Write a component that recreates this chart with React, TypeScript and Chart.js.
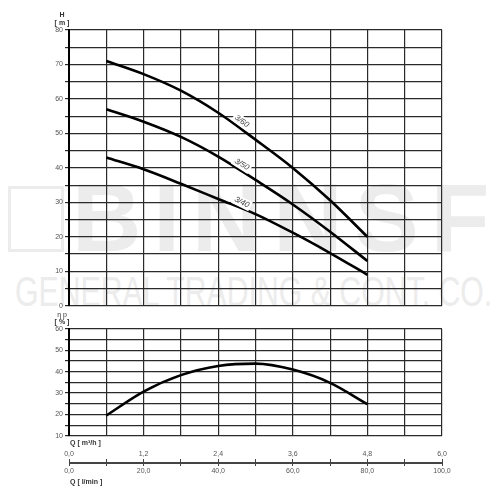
import React, { useEffect, useRef } from "react";
import { Chart, registerables } from "chart.js";

Chart.register(...registerables);

// ---- data ----
const flowQ = [0.6, 1.2, 1.8, 2.4, 3.0, 3.6, 4.2, 4.8]; // m³/h
const head360 = [71, 67.2, 62.4, 56, 48.2, 40, 30.6, 20];
const head350 = [57, 53.4, 49, 43.3, 36.5, 29.4, 21.5, 13];
const head340 = [43, 39.6, 35.4, 31, 26.6, 21.2, 15.3, 9];
const efficiency = [19.5, 30.7, 38.4, 42.7, 43.8, 41, 34.8, 24.8];
const curveNames = ["3/60", "3/50", "3/40"];
const curveLabelQ = 2.78;
const curveLabelH = [53.5, 41, 30];
const curveLabelAngle = [36, 32, 27];
const labelledM3h = [0, 1.2, 2.4, 3.6, 4.8, 6.0];
const labelledLmin = [0, 20, 40, 60, 80, 100];

const GRID = "#2a2a2a";
const GRID_W = 1.2;
const FONT = "Liberation Sans, Arial, sans-serif";
const tickFont = { family: FONT, size: 7 };
const TICK_COLOR = "#555";

const fmt = (v: number) => v.toFixed(1).replace(".", ",");
const pts = (ys: number[]) => flowQ.map((q, i) => ({ x: q, y: ys[i] }));

const lineStyle = {
  borderColor: "#000",
  borderWidth: 2.6,
  pointRadius: 0,
  tension: 0.4,
  cubicInterpolationMode: "monotone" as const,
  fill: false,
};

const curveLabelPlugin = {
  id: "curveLabels",
  afterDatasetsDraw(chart: any) {
    const { ctx } = chart;
    const x = chart.scales.x;
    const y = chart.scales.y;
    ctx.save();
    ctx.font = `italic 8px ${FONT}`;
    curveNames.forEach((name, i) => {
      const px = x.getPixelForValue(curveLabelQ);
      const py = y.getPixelForValue(curveLabelH[i]);
      ctx.save();
      ctx.translate(px, py);
      ctx.rotate((curveLabelAngle[i] * Math.PI) / 180);
      const w = ctx.measureText(name).width;
      ctx.fillStyle = "#fff";
      ctx.fillRect(-w / 2 - 2, -5, w + 4, 10);
      ctx.fillStyle = "#444";
      ctx.textAlign = "center";
      ctx.textBaseline = "middle";
      ctx.fillText(name, 0, 0);
      ctx.restore();
    });
    ctx.restore();
  },
};

function xGridScale() {
  return {
    type: "linear" as const,
    min: 0,
    max: 6,
    ticks: { stepSize: 0.6, display: false },
    grid: { color: GRID, lineWidth: GRID_W, drawTicks: false },
    border: { display: false },
    afterFit: (s: any) => {
      s.height = 0;
    },
  };
}

function yScale(min: number, max: number) {
  return {
    min,
    max,
    ticks: {
      stepSize: 5,
      font: tickFont,
      color: TICK_COLOR,
      padding: 2,
      callback: (v: any) => (Number(v) % 10 === 0 ? String(v) : ""),
      autoSkip: false,
    },
    grid: { color: GRID, lineWidth: GRID_W, tickLength: 4 },
    border: { color: "#000", width: 2 },
    afterFit: (s: any) => {
      s.width = 69;
    },
  };
}

const txt: React.CSSProperties = {
  position: "absolute",
  fontFamily: FONT,
  fontSize: 7,
  lineHeight: "8px",
  fontWeight: "bold",
  color: "#333",
  whiteSpace: "nowrap",
};

export default function App() {
  const headRef = useRef<HTMLCanvasElement>(null);
  const effRef = useRef<HTMLCanvasElement>(null);
  const axisRef = useRef<HTMLCanvasElement>(null);

  useEffect(() => {
    const headChart = new Chart(headRef.current!, {
      type: "line",
      data: {
        datasets: [
          { data: pts(head360), ...lineStyle },
          { data: pts(head350), ...lineStyle },
          { data: pts(head340), ...lineStyle },
        ],
      },
      options: {
        responsive: false,
        animation: false,
        layout: { padding: { left: 0, right: 58, top: 30, bottom: 5 } },
        plugins: { legend: { display: false }, tooltip: { enabled: false } },
        scales: { x: xGridScale(), y: yScale(0, 80) } as any,
      },
      plugins: [curveLabelPlugin],
    });

    const effChart = new Chart(effRef.current!, {
      type: "line",
      data: { datasets: [{ data: pts(efficiency), ...lineStyle }] },
      options: {
        responsive: false,
        animation: false,
        layout: { padding: { left: 0, right: 58, top: 17, bottom: 6 } },
        plugins: { legend: { display: false }, tooltip: { enabled: false } },
        scales: { x: xGridScale(), y: yScale(10, 60) } as any,
      },
    });

    const axisChart = new Chart(axisRef.current!, {
      type: "line",
      data: { datasets: [] },
      options: {
        responsive: false,
        animation: false,
        layout: { padding: { left: 69, right: 58, top: 0, bottom: 0 } },
        plugins: { legend: { display: false }, tooltip: { enabled: false } },
        scales: {
          x: {
            type: "linear",
            position: "top",
            min: 0,
            max: 6,
            ticks: {
              stepSize: 0.6,
              font: tickFont,
              color: TICK_COLOR,
              padding: 1,
              maxRotation: 0,
              autoSkip: false,
              callback: (v: any) =>
                labelledM3h.some((t) => Math.abs(t - Number(v)) < 1e-6) ? fmt(Number(v)) : "",
            },
            grid: { drawOnChartArea: false, tickLength: 3, color: "#444", lineWidth: 1 },
            border: { color: "#444", width: 1 },
            afterFit: (s: any) => {
              s.height = 22;
            },
          },
          x2: {
            type: "linear",
            position: "bottom",
            min: 0,
            max: 100,
            ticks: {
              stepSize: 10,
              font: tickFont,
              color: TICK_COLOR,
              padding: 1,
              maxRotation: 0,
              autoSkip: false,
              callback: (v: any) =>
                labelledLmin.some((t) => Math.abs(t - Number(v)) < 1e-6) ? fmt(Number(v)) : "",
            },
            grid: { drawOnChartArea: false, tickLength: 3, color: "#444", lineWidth: 1 },
            border: { color: "#444", width: 1 },
            afterFit: (s: any) => {
              s.height = 27;
            },
          },
          y: { display: false },
        } as any,
      },
    });

    return () => {
      headChart.destroy();
      effChart.destroy();
      axisChart.destroy();
    };
  }, []);

  return (
    <div
      style={{
        position: "absolute",
        left: 0,
        top: 0,
        width: 500,
        height: 500,
        background: "#fff",
        overflow: "hidden",
      }}
    >
      {/* watermark */}
      <div
        style={{
          position: "absolute",
          left: 8,
          top: 186,
          width: 56,
          height: 66,
          border: "3px solid #ececec",
          boxSizing: "border-box",
        }}
      />
      <div
        style={{
          position: "absolute",
          left: 72,
          top: 170,
          fontFamily: FONT,
          fontWeight: "bold",
          fontSize: 96,
          lineHeight: "96px",
          letterSpacing: 12,
          color: "#ececec",
          whiteSpace: "nowrap",
        }}
      >
        BINNSF
      </div>
      <div
        style={{
          position: "absolute",
          left: 15,
          top: 271,
          fontFamily: FONT,
          fontSize: 42,
          lineHeight: "42px",
          color: "#ececec",
          whiteSpace: "nowrap",
          transform: "scaleX(0.72)",
          transformOrigin: "left top",
        }}
      >
        GENERAL TRADING &amp; CONT. CO.
      </div>

      <canvas
        ref={headRef}
        width={500}
        height={312}
        style={{ position: "absolute", left: 0, top: 0 }}
      />
      <canvas
        ref={effRef}
        width={500}
        height={130}
        style={{ position: "absolute", left: 0, top: 312 }}
      />
      <canvas
        ref={axisRef}
        width={500}
        height={50}
        style={{ position: "absolute", left: 0, top: 440 }}
      />

      <div style={{ ...txt, left: 52, width: 20, textAlign: "center", top: 11 }}>H</div>
      <div style={{ ...txt, left: 52, width: 20, textAlign: "center", top: 19 }}>[ m ]</div>
      <div style={{ ...txt, left: 52, width: 20, textAlign: "center", top: 311, fontWeight: "normal" }}>η p</div>
      <div style={{ ...txt, left: 52, width: 20, textAlign: "center", top: 318 }}>[ % ]</div>
      <div style={{ ...txt, left: 70, top: 439 }}>Q [ m³/h ]</div>
      <div style={{ ...txt, left: 70, top: 478 }}>Q [ l/min ]</div>
    </div>
  );
}
